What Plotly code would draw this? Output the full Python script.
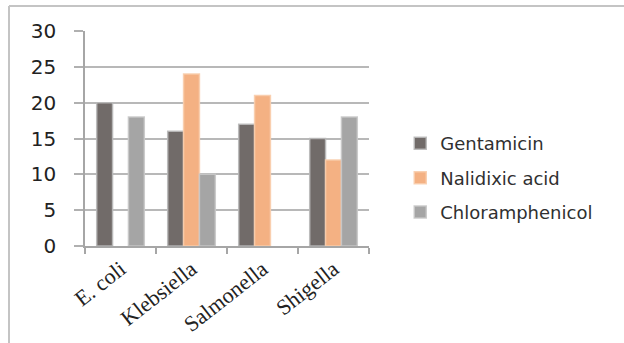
import plotly.graph_objects as go

categories = ["E. coli", "Klebsiella", "Salmonella", "Shigella"]
gentamicin = [20, 16, 17, 15]
nalidixic_acid = [None, 24, 21, 12]
chloramphenicol = [18, 10, None, 18]
y_ticks = [0, 5, 10, 15, 20, 25, 30]

series = [
    ("Gentamicin", gentamicin, "#716b69", "rgba(185,185,185,0.9)"),
    ("Nalidixic acid", nalidixic_acid, "#f4b183", "rgba(248,205,172,0.9)"),
    ("Chloramphenicol", chloramphenicol, "#a5a5a5", "rgba(200,200,200,0.9)"),
]

fig = go.Figure()
for i, (name, vals, col, lcol) in enumerate(series):
    fig.add_trace(go.Bar(
        x=categories, y=vals, name=name, legendgroup=f"g{i}",
        marker=dict(color=col, line=dict(color=lcol, width=1.5)),
    ))

W, H = 624, 343
L, R, T, B = 85, 255, 31, 97

fig.update_layout(
    width=W, height=H,
    margin=dict(l=L, r=R, t=T, b=B, autoexpand=False),
    paper_bgcolor="white", plot_bgcolor="white",
    barmode="group", bargap=0.33, bargroupgap=0,
    showlegend=True,
    legend=dict(
        x=1.11, xanchor="left", y=0.316, yanchor="middle",
        font=dict(family="DejaVu Sans", size=18, color="#303030"),
        traceorder="grouped", tracegroupgap=8,
        itemwidth=30, bgcolor="rgba(0,0,0,0)",
    ),
    xaxis=dict(
        type="category", tickson="boundaries", ticks="outside", ticklen=6,
        tickcolor="#a6a6a6", tickwidth=1.5, automargin=False,
        showline=True, linecolor="#a6a6a6", linewidth=1.5,
        showgrid=False, tickangle=-38,
        tickfont=dict(family="Liberation Serif", size=22, color="#222222"),
    ),
    yaxis=dict(
        range=[0, 30], tickvals=y_ticks, ticks="outside", ticklen=9,
        tickcolor="#b0b0b0", tickwidth=1.5, automargin=False,
        showline=True, linecolor="#a6a6a6", linewidth=1.5,
        showgrid=True, gridcolor="#b8b8b8", gridwidth=1.5,
        zeroline=False, ticklabelstandoff=14,
        tickfont=dict(family="DejaVu Sans", size=20, color="#222222"),
    ),
)

# outer chart border (top and left edges visible)
pw = W - L - R
ph = H - T - B
def px(xp):
    return (xp - L) / pw
def py(yp):
    return (H - B - yp) / ph

fig.add_shape(type="line", xref="paper", yref="paper",
              x0=px(9), x1=px(W + 5), y0=py(6), y1=py(6),
              line=dict(color="#c4c4c4", width=2))
fig.add_shape(type="line", xref="paper", yref="paper",
              x0=px(9), x1=px(9), y0=py(6), y1=py(H + 5),
              line=dict(color="#c4c4c4", width=2))

fig.write_html("out.html")
